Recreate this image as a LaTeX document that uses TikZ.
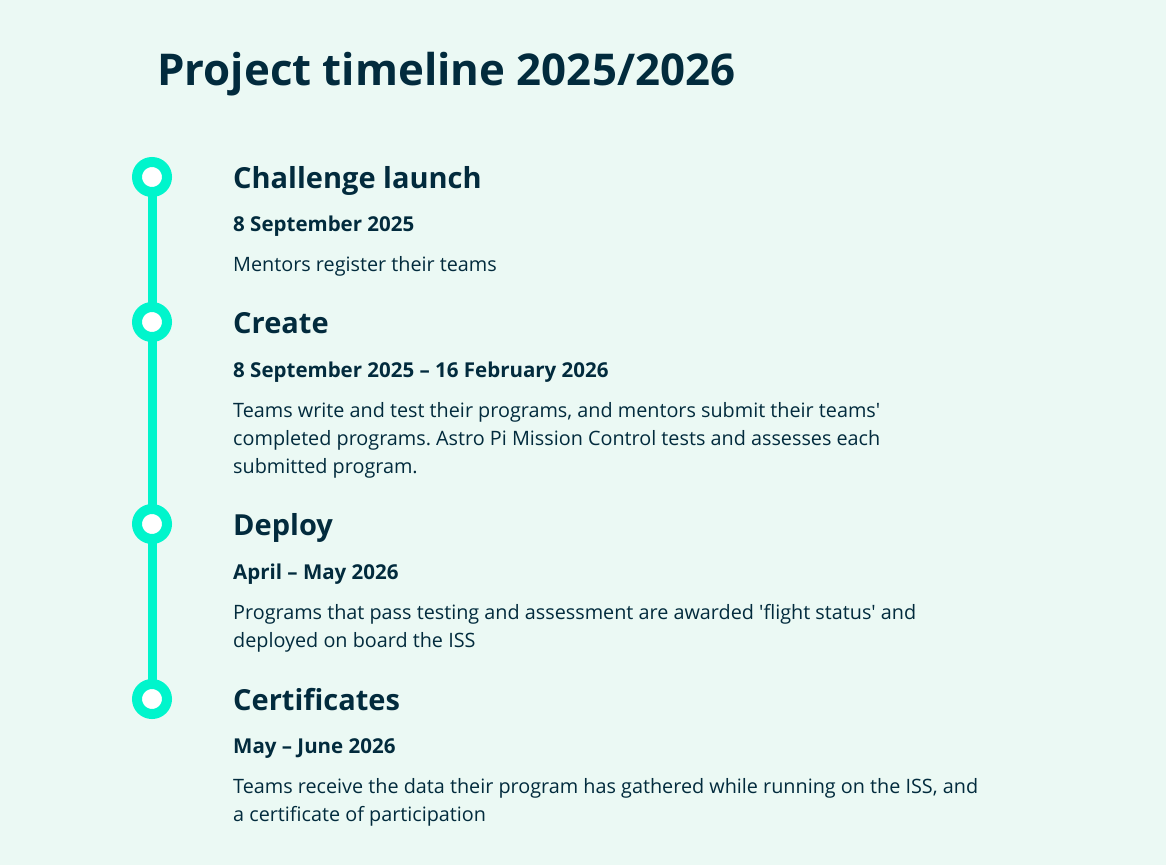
\documentclass[tikz,border=0pt]{standalone}
\usepackage{fontspec}
\setmainfont{Open Sans}
\frenchspacing
\definecolor{bgmint}{HTML}{EBF9F4}
\definecolor{linemint}{HTML}{00F5CC}
\definecolor{inknavy}{HTML}{022B3D}

\tikzset{
  stage/.style={circle, draw=linemint, line width=10pt, fill=white, minimum size=30pt, inner sep=0pt},
  heading/.style={anchor=base west, inner sep=0pt, text=inknavy, font=\fontsize{29}{34}\selectfont\bfseries},
  datetext/.style={anchor=base west, inner sep=0pt, text=inknavy, font=\fontsize{20.5}{28}\selectfont\bfseries},
  bodytext/.style={anchor=base west, inner sep=0pt, text=inknavy, align=left, font=\fontsize{19.8}{28}\selectfont}
}

\begin{document}
\begin{tikzpicture}[x=1pt, y=-1pt]

	% Background and page size.
	\fill[bgmint] (0,0) rectangle (1166,865);
	\useasboundingbox (0,0) rectangle (1166,865);

	% Title.
	\node[anchor=base west, inner sep=0pt, text=inknavy, font=\fontsize{43.8}{50}\selectfont\bfseries] (title) at (157,85) {Project timeline 2025/2026};

	% Draw the vertical line and the stage markers.
	\coordinate (top) at (152,177);
	\coordinate (bottom) at (152,699);
	\draw[linemint, line width=9pt] (top) -- (bottom);
	\foreach \y/\name in {177/launch, 322/create, 524/deploy, 699/certs}{
		\node[stage] (\name) at (152,\y) {};
	}

	% Challenge launch.
	\node[heading] (launchhead) at (233,188) {Challenge launch};
	\node[datetext] (launchdate) at (233,231) {8 September 2025};
	\node[bodytext] (launchbody) at (233,271) {Mentors register their teams};

	% Create (multi-line texts sit on their last baseline).
	\node[heading] (createhead) at (233,333) {Create};
	\node[datetext] (createdate) at (233,377) {8 September 2025 – 16 February 2026};
	\node[bodytext] (createbody) at (233,473) {Teams write and test their programs, and mentors submit their teams\textquotesingle\\completed programs. Astro Pi Mission Control tests and assesses each\\submitted program.};

	% Deploy.
	\node[heading] (deployhead) at (233,535) {Deploy};
	\node[datetext] (deploydate) at (233,579) {April – May 2026};
	\node[bodytext] (deploybody) at (233,647) {Programs that pass testing and assessment are awarded \textquotesingle flight status\textquotesingle\ and\\deployed on board the ISS};

	% Certificates.
	\node[heading] (certshead) at (233,710) {Certificates};
	\node[datetext] (certsdate) at (233,753) {May – June 2026};
	\node[bodytext] (certsbody) at (233,821) {Teams receive the data their program has gathered while running on the ISS, and\\a certificate of participation};

\end{tikzpicture}
\end{document}
